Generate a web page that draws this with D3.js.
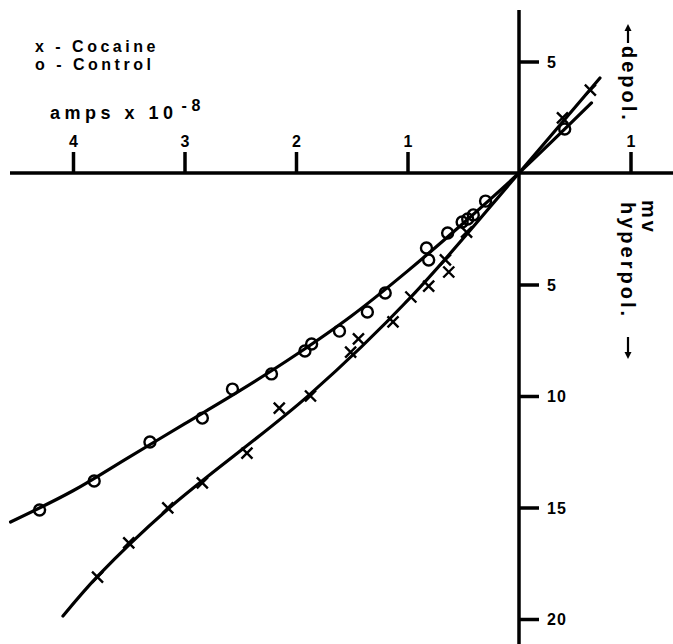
<!DOCTYPE html>
<html><head><meta charset="utf-8">
<script src="https://cdn.jsdelivr.net/npm/d3@7/dist/d3.min.js"></script>
<style>
body{margin:0;background:#fff}
text{font-family:"Liberation Sans",Arial,Helvetica,sans-serif;font-weight:bold;fill:#000}
</style>
</head><body>
<svg id="chart" width="673" height="644"></svg>
<script>
// current in amps x 10^-8 (positive = hyperpolarizing, drawn to the left); voltage in mV (positive = hyperpolarization, drawn downward)
const cocaineCurrent = [-0.64,-0.39,0.47,0.66,0.63,0.81,0.97,1.13,1.44,1.51,1.87,2.15,2.44,2.84,3.15,3.50,3.78];
const cocaineVoltage = [-3.72,-2.47,2.65,3.90,4.44,5.07,5.56,6.68,7.44,8.03,10.0,10.54,12.56,13.90,15.02,16.59,18.12];
const controlCurrent = [-0.41,0.30,0.41,0.46,0.51,0.64,0.83,0.81,1.20,1.36,1.61,1.86,1.92,2.22,2.57,2.84,3.31,3.81,4.30];
const controlVoltage = [-1.97,1.26,1.88,2.06,2.20,2.69,3.36,3.90,5.38,6.23,7.09,7.67,7.98,9.01,9.69,10.99,12.06,13.81,15.11];
// hand-drawn fitted curves
const cocaineFitCurrent = [-0.726,0,0.969,1.883,3.148,3.776,4.09];
const cocaineFitVoltage = [-4.26,0,5.56,9.96,15.07,18.07,19.87];
const controlFitCurrent = [-0.65,0,0.5,1,1.5,2,2.5,3,3.5,4,4.56];
const controlFitVoltage = [-3.14,0,2.25,4.4,6.4,8.15,9.75,11.25,12.75,14.25,15.65];
// axes
const xTickValues = [4,3,2,1,-1];
const xTickLabels = ["4","3","2","1","1"];
const yTickValues = [-5,5,10,15,20];
const yTickLabels = ["5","5","10","15","20"];
const legendLabels = ["x - Cocaine","o - Control"];

const svg = d3.select("#chart");
const x = d3.scaleLinear().domain([0,4]).range([519,73]);
const y = d3.scaleLinear().domain([0,20]).range([173,619]);
const FONT = '"Liberation Sans",Arial,sans-serif';

const axisStroke = 3.5;
svg.append("line").attr("x1", x(x.invert(10))).attr("x2", x(x.invert(673)))
  .attr("y1", y(0)).attr("y2", y(0)).attr("stroke","#000").attr("stroke-width",axisStroke);
svg.append("line").attr("x1", x(0)).attr("x2", x(0))
  .attr("y1", y(y.invert(10))).attr("y2", y(y.invert(644))).attr("stroke","#000").attr("stroke-width",axisStroke);

// x ticks (upward)
const xAxis = d3.axisTop(x).tickValues(xTickValues).tickSize(21).tickSizeOuter(0)
  .tickFormat((d,i)=>xTickLabels[i]);
const gx = svg.append("g").attr("transform",`translate(0,${y(0)})`).call(xAxis);
gx.select(".domain").remove();
gx.selectAll(".tick line").attr("stroke","#000").attr("stroke-width",3.5);
gx.selectAll(".tick text").attr("font-size",16).attr("y",-26).attr("dy",0)
  .style("font-family",FONT).style("font-weight","bold").attr("fill","#000");

// y ticks (rightward)
const yAxis = d3.axisRight(y).tickValues(yTickValues).tickSize(20).tickSizeOuter(0)
  .tickFormat((d,i)=>yTickLabels[i]);
const gy = svg.append("g").attr("transform",`translate(${x(0)},0)`).call(yAxis);
gy.select(".domain").remove();
gy.selectAll(".tick line").attr("stroke","#000").attr("stroke-width",3.5);
gy.selectAll(".tick text").attr("font-size",16).attr("x",28).attr("dy","0.36em")
  .style("font-family",FONT).style("font-weight","bold")
  .style("letter-spacing","1px").attr("fill","#000");

// fitted curves
const line = d3.line().x(d=>x(d[0])).y(d=>y(d[1])).curve(d3.curveCatmullRom.alpha(0.5));
svg.append("path").datum(cocaineFitCurrent.map((c,i)=>[c,cocaineFitVoltage[i]]))
  .attr("d",line).attr("fill","none").attr("stroke","#000").attr("stroke-width",3.2).attr("stroke-linecap","round");
svg.append("path").datum(controlFitCurrent.map((c,i)=>[c,controlFitVoltage[i]]))
  .attr("d",line).attr("fill","none").attr("stroke","#000").attr("stroke-width",3.2).attr("stroke-linecap","round");

// control points (circles)
svg.append("g").selectAll("circle").data(controlCurrent.map((c,i)=>[c,controlVoltage[i]]))
  .join("circle").attr("cx",d=>x(d[0])).attr("cy",d=>y(d[1])).attr("r",5.5)
  .attr("fill","none").attr("stroke","#000").attr("stroke-width",2.4);
// cocaine points (crosses)
svg.append("g").selectAll("path").data(cocaineCurrent.map((c,i)=>[c,cocaineVoltage[i]]))
  .join("path").attr("transform",d=>`translate(${x(d[0])},${y(d[1])})`)
  .attr("d","M-5.5,-5.5L5.5,5.5M-5.5,5.5L5.5,-5.5")
  .attr("stroke","#000").attr("stroke-width",2.4).attr("fill","none");

// legend
svg.append("text").attr("x",35).attr("y",52).attr("font-size",16).style("letter-spacing","3.5px").text(legendLabels[0]);
svg.append("text").attr("x",35).attr("y",70).attr("font-size",16).style("letter-spacing","3.5px").text(legendLabels[1]);

// x axis title
const t = svg.append("text").attr("x",50).attr("y",119).attr("font-size",18).style("letter-spacing","4.5px");
t.append("tspan").text("amps x 10");
t.append("tspan").attr("dy",-8).attr("dx",4).attr("font-size",16).text("-8");

// y axis titles (rotated, reading downward)
svg.append("text").attr("transform","translate(622,46) rotate(90)").attr("font-size",20)
  .style("letter-spacing","3px").text("depol.");
svg.append("text").attr("transform","translate(642,200) rotate(90)").attr("font-size",20)
  .style("letter-spacing","3px").text("mv");
svg.append("text").attr("transform","translate(621,202) rotate(90)").attr("font-size",20)
  .style("letter-spacing","3px").text("hyperpol.");

// arrows next to the rotated titles
const arrow = (x0,y0,y1) => {
  const dir = Math.sign(y1-y0);
  svg.append("line").attr("x1",x0).attr("x2",x0).attr("y1",y0).attr("y2",y1-dir*5)
    .attr("stroke","#000").attr("stroke-width",2.2);
  svg.append("path").attr("d",`M${x0-3.5},${y1-dir*7}L${x0},${y1}L${x0+3.5},${y1-dir*7}Z`).attr("fill","#000");
};
arrow(628,43,24);
arrow(628,337,359);
</script>
</body></html>
